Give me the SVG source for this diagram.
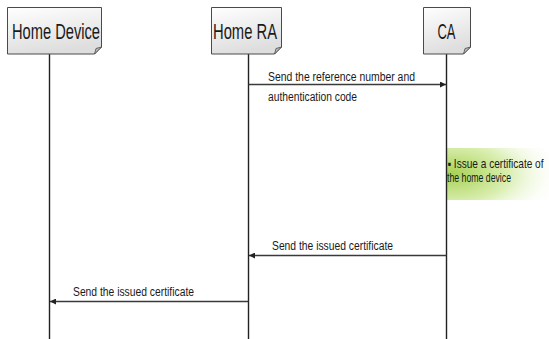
<svg xmlns="http://www.w3.org/2000/svg" width="549" height="339" viewBox="0 0 549 339">
  <style>
    .head { fill: url(#headFill); stroke: #4a4a4a; stroke-width: 1; }
    .fold { fill: #bdbdbd; stroke: #4a4a4a; stroke-width: 0.8; }
    .title { font-family: "Liberation Sans", Arial, sans-serif; font-size: 22px; fill: #1a1a1a; }
    .life { stroke: #222; stroke-width: 1.4; fill: none; }
    .msg { stroke: #3a3a3a; stroke-width: 1.3; fill: none; }
    .label { font-family: "Liberation Sans", Arial, sans-serif; font-size: 12.5px; fill: #1a1a1a; }
  </style>
  <defs>
    <linearGradient id="headFill" x1="0" y1="0" x2="0.3" y2="1">
      <stop offset="0" stop-color="#ffffff"/>
      <stop offset="1" stop-color="#dedede"/>
    </linearGradient>
    <radialGradient id="noteFill" cx="0.05" cy="0.5" r="1.1">
      <stop offset="0" stop-color="#a8d255"/>
      <stop offset="0.5" stop-color="#d9eeb0"/>
      <stop offset="1" stop-color="#ffffff" stop-opacity="0"/>
    </radialGradient>
    <marker id="arrow" viewBox="0 0 6 6" refX="6" refY="3" markerWidth="6" markerHeight="6" markerUnits="userSpaceOnUse" orient="auto">
      <path d="M0,0 L6,3 L0,6 Z" fill="#222"/>
    </marker>
  </defs>

  <!-- activation note on the CA lifeline -->
  <rect id="note-bg" x="447" y="148" width="102" height="52" fill="url(#noteFill)"/>

  <!-- lifelines -->
  <g id="lifelines">
    <line class="life" x1="49.5" y1="54" x2="49.5" y2="339"/>
    <line class="life" x1="248.5" y1="54" x2="248.5" y2="339"/>
    <line class="life" x1="446.5" y1="54" x2="446.5" y2="339"/>
  </g>

  <g id="home-device">
    <path class="head" d="M7.5,7.5 H101.5 V47 L94.5,54 H7.5 Z"/>
    <path class="fold" d="M94.5,54 L96,48.5 L101.5,47 Z"/>
    <text class="title" x="12" y="39" textLength="88" lengthAdjust="spacingAndGlyphs">Home Device</text>
  </g>

  <g id="home-ra">
    <path class="head" d="M211.5,7.5 H281.5 V47 L274.5,54 H211.5 Z"/>
    <path class="fold" d="M274.5,54 L276,48.5 L281.5,47 Z"/>
    <text class="title" x="213" y="39" textLength="64" lengthAdjust="spacingAndGlyphs">Home RA</text>
  </g>

  <g id="ca">
    <path class="head" d="M423.5,7.5 H470.5 V47 L463.5,54 H423.5 Z"/>
    <path class="fold" d="M463.5,54 L465,48.5 L470.5,47 Z"/>
    <text class="title" x="437.5" y="39" textLength="18" lengthAdjust="spacingAndGlyphs">CA</text>
  </g>

  <g id="connectors">
    <line class="msg" x1="248.5" y1="84.5" x2="446" y2="84.5" marker-end="url(#arrow)"/>
    <line class="msg" x1="446.5" y1="255.5" x2="249" y2="255.5" marker-end="url(#arrow)"/>
    <line class="msg" x1="248.5" y1="301.5" x2="50" y2="301.5" marker-end="url(#arrow)"/>
  </g>

  <g id="labels">
    <text class="label" x="268" y="81" textLength="147" lengthAdjust="spacingAndGlyphs">Send the reference number and</text>
    <text class="label" x="268" y="101" textLength="89" lengthAdjust="spacingAndGlyphs">authentication code</text>
    <text class="label" x="272" y="250" textLength="121" lengthAdjust="spacingAndGlyphs">Send the issued certificate</text>
    <text class="label" x="73" y="296" textLength="121" lengthAdjust="spacingAndGlyphs">Send the issued certificate</text>
  </g>

  <!-- note text, narrowed horizontally to sit inside the right edge -->
  <g id="note" transform="translate(447.5,168) scale(0.8,1)">
    <text class="label" x="0" y="0" textLength="120" lengthAdjust="spacingAndGlyphs">▪ Issue a certificate of</text>
    <text class="label" x="-0.6" y="14" textLength="80" lengthAdjust="spacingAndGlyphs">the home device</text>
  </g>
</svg>
